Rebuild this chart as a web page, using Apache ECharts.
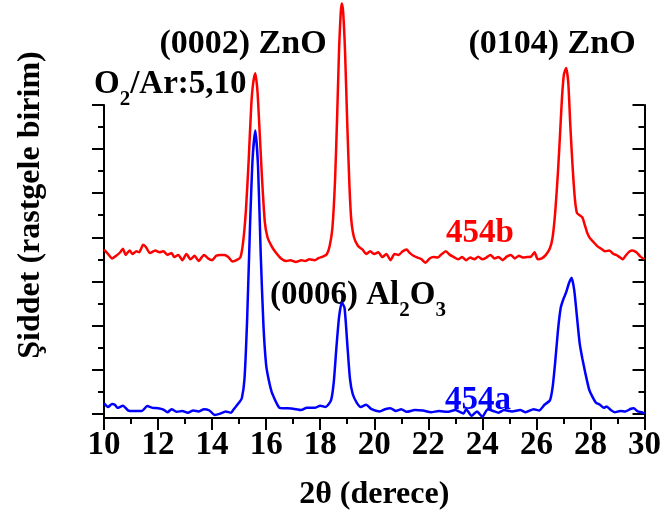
<!DOCTYPE html>
<html>
<head>
<meta charset="utf-8">
<script src="https://cdn.jsdelivr.net/npm/echarts@6/dist/echarts.min.js"></script>
<style>
  html,body{margin:0;padding:0;background:#fff;}
  #chart{width:664px;height:520px;}
</style>
</head>
<body>
<div id="chart"></div>
<script>
// 2theta positions + intensity (arb. units, offset)
var red454b = [
  [10.0,3.72],[10.15,3.62],[10.3,3.52],[10.45,3.58],[10.6,3.66],[10.7,3.74],[10.8,3.6],[10.95,3.7],
  [11.05,3.62],[11.2,3.68],[11.3,3.66],[11.45,3.83],[11.55,3.78],[11.7,3.64],[11.9,3.7],[12.05,3.66],
  [12.2,3.68],[12.35,3.6],[12.5,3.64],[12.6,3.55],[12.75,3.6],[12.9,3.48],[13.05,3.62],[13.2,3.5],
  [13.35,3.58],[13.5,3.46],[13.7,3.6],[13.85,3.52],[14.0,3.48],[14.15,3.58],[14.3,3.6],[14.45,3.6],
  [14.6,3.55],[14.75,3.45],[14.9,3.48],[15.05,3.55],[15.15,3.9],[15.25,4.6],[15.35,5.7],[15.45,7.0],
  [15.52,7.5],[15.6,7.72],[15.68,7.3],[15.75,6.5],[15.85,5.3],[15.95,4.35],[16.05,4.0],[16.2,3.8],
  [16.35,3.66],[16.55,3.52],[16.75,3.46],[16.9,3.48],[17.1,3.44],[17.3,3.48],[17.45,3.46],[17.6,3.5],
  [17.8,3.48],[17.95,3.53],[18.1,3.56],[18.25,3.62],[18.35,3.8],[18.45,4.2],[18.55,5.3],[18.63,6.8],
  [18.7,8.3],[18.76,9.1],[18.8,9.3],[18.85,9.1],[18.92,8.2],[19.0,6.6],[19.08,5.2],[19.15,4.4],
  [19.25,4.0],[19.4,3.8],[19.57,3.72],[19.7,3.62],[19.85,3.68],[20.0,3.62],[20.15,3.66],[20.3,3.55],
  [20.45,3.62],[20.6,3.48],[20.75,3.62],[20.9,3.6],[21.05,3.68],[21.2,3.72],[21.3,3.65],[21.45,3.58],
  [21.6,3.54],[21.75,3.5],[21.9,3.42],[22.05,3.52],[22.2,3.55],[22.35,3.54],[22.5,3.62],[22.65,3.68],
  [22.8,3.6],[22.95,3.55],[23.1,3.5],[23.25,3.55],[23.4,3.48],[23.55,3.54],[23.7,3.5],[23.85,3.56],
  [24.0,3.5],[24.15,3.54],[24.3,3.6],[24.45,3.52],[24.6,3.55],[24.75,3.48],[24.9,3.56],[25.05,3.6],
  [25.2,3.52],[25.35,3.58],[25.5,3.54],[25.65,3.55],[25.8,3.56],[25.93,3.66],[26.05,3.5],[26.2,3.52],
  [26.35,3.6],[26.5,3.75],[26.6,4.0],[26.7,4.6],[26.8,5.5],[26.88,6.4],[26.95,7.2],[27.02,7.7],
  [27.1,7.84],[27.18,7.5],[27.25,6.6],[27.33,5.7],[27.42,4.9],[27.5,4.55],[27.6,4.5],[27.7,4.45],
  [27.78,4.3],[27.88,4.1],[27.98,3.98],[28.1,3.9],[28.25,3.8],[28.4,3.74],[28.55,3.68],[28.7,3.7],
  [28.85,3.62],[28.95,3.6],[29.1,3.54],[29.2,3.5],[29.3,3.58],[29.45,3.68],[29.55,3.7],[29.7,3.66],
  [29.85,3.56],[30.0,3.5]
];
var blue454a = [
  [10.0,0.23],[10.15,0.15],[10.3,0.22],[10.4,0.2],[10.5,0.13],[10.7,0.18],[10.9,0.07],[11.1,0.06],
  [11.4,0.06],[11.6,0.17],[11.8,0.13],[12.0,0.12],[12.2,0.09],[12.35,0.03],[12.5,0.1],[12.7,0.04],
  [12.9,0.06],[13.1,0.02],[13.3,0.07],[13.5,0.05],[13.7,0.1],[13.9,0.07],[14.1,-0.03],[14.3,0.0],
  [14.5,0.05],[14.7,0.02],[14.8,0.1],[15.0,0.25],[15.1,0.35],[15.2,0.8],[15.3,2.2],[15.4,4.2],
  [15.5,5.8],[15.6,6.42],[15.7,5.6],[15.8,3.6],[15.9,2.0],[16.0,1.1],[16.1,0.75],[16.2,0.5],
  [16.3,0.35],[16.4,0.22],[16.5,0.13],[16.8,0.12],[17.0,0.11],[17.3,0.08],[17.5,0.13],[17.8,0.13],
  [18.0,0.18],[18.2,0.15],[18.4,0.3],[18.5,0.7],[18.6,1.5],[18.7,2.2],[18.8,2.52],[18.9,2.4],
  [19.0,1.6],[19.1,0.8],[19.2,0.45],[19.35,0.25],[19.5,0.15],[19.7,0.2],[19.9,0.1],[20.2,0.05],
  [20.4,0.1],[20.6,0.12],[20.8,0.06],[21.0,0.1],[21.2,0.04],[21.5,0.08],[21.8,0.07],[22.1,0.03],
  [22.4,0.06],[22.7,0.04],[23.0,0.08],[23.3,0.0],[23.4,0.1],[23.6,-0.05],[23.8,0.05],[24.0,-0.07],
  [24.2,0.1],[24.4,0.06],[24.6,0.02],[24.8,0.08],[25.1,0.05],[25.4,0.08],[25.6,0.03],[25.9,0.1],
  [26.1,0.07],[26.3,0.2],[26.5,0.3],[26.6,0.6],[26.7,1.2],[26.8,1.9],[26.9,2.4],[27.0,2.6],
  [27.1,2.75],[27.2,2.95],[27.3,3.08],[27.4,2.8],[27.5,2.2],[27.6,1.6],[27.7,1.25],[27.8,0.95],
  [27.95,0.55],[28.1,0.35],[28.2,0.25],[28.35,0.2],[28.5,0.13],[28.6,0.16],[28.75,0.08],[28.9,0.03],
  [29.1,0.06],[29.3,0.05],[29.5,0.11],[29.6,0.12],[29.75,0.05],[29.9,0.03],[30.0,0.0]
];
var yMajor = [0,1,2,3,4,5,6,7];
var yMinor = [0.5,1.5,2.5,3.5,4.5,5.5,6.5];

var FONT = '"Liberation Serif","Times New Roman",serif';

function yAxis(pos, ticks, len, showLine){
  return {
    type:'value', position:pos, min:-0.1, max:7,
    axisLine:{show:showLine, onZero:false, lineStyle:{color:'#000', width:2}},
    axisTick:{show:true, customValues:ticks, length:len, inside:pos=='right', lineStyle:{color:'#000', width:2}},
    axisLabel:{show:false, customValues:ticks},
    splitLine:{show:false}
  };
}

var myChart = echarts.init(document.getElementById('chart'));

var sub = {fontFamily:FONT, fontWeight:'bold', fontSize:21, lineHeight:21, padding:[32,0,0,0], color:'#000'};
var big = {fontFamily:FONT, fontWeight:'bold', fontSize:33, lineHeight:36, color:'#000'};

var option = {
  animation:false,
  grid:{left:104, right:19, top:105, bottom:102},
  xAxis:{
    type:'value', min:10, max:30, interval:2,
    name:'2θ (derece)', nameLocation:'middle', nameGap:61,
    nameTextStyle:{fontFamily:FONT, fontWeight:'bold', fontSize:32, color:'#000'},
    axisLine:{onZero:false, lineStyle:{color:'#000', width:2}},
    axisTick:{length:12, lineStyle:{color:'#000', width:2}},
    minorTick:{show:true, splitNumber:2, length:6, lineStyle:{color:'#000', width:2}},
    axisLabel:{fontFamily:FONT, fontWeight:'bold', fontSize:33, color:'#000', margin:11},
    splitLine:{show:false}
  },
  yAxis:[
    yAxis('left', yMajor, 12, true),
    yAxis('left', yMinor, 6, false),
    yAxis('right', yMajor, 12, true),
    yAxis('right', yMinor, 6, false)
  ],
  series:[
    {type:'line', data:red454b, showSymbol:false, smooth:0.2, clip:false,
     lineStyle:{color:'#ff0000', width:2.5}},
    {type:'line', data:blue454a, showSymbol:false, smooth:0.2, clip:false,
     lineStyle:{color:'#0000ff', width:2.5}}
  ],
  graphic:[
    {type:'text', x:31, y:205, rotation:Math.PI/2,
     style:{text:'Şiddet (rastgele birim)', font:'bold 32px '+FONT, fill:'#000', align:'center', verticalAlign:'middle'}},
    {type:'text', x:243, y:44, style:{text:'(0002) ZnO', font:'bold 34px '+FONT, fill:'#000', align:'center', verticalAlign:'middle'}},
    {type:'text', x:552, y:44, style:{text:'(0104) ZnO', font:'bold 34px '+FONT, fill:'#000', align:'center', verticalAlign:'middle'}},
    {type:'text', x:94, y:84, style:{
      text:'{a|O}{s|2}{a|/Ar:5,10}', align:'left', verticalAlign:'middle', rich:{a:big, s:sub}}},
    {type:'text', x:270, y:295, style:{
      text:'{a|(0006) Al}{s|2}{a|O}{s|3}', align:'left', verticalAlign:'middle', rich:{a:big, s:sub}}},
    {type:'text', x:480, y:233, style:{text:'454b', font:'bold 33px '+FONT, fill:'#ff0000', align:'center', verticalAlign:'middle'}},
    {type:'text', x:478, y:400, style:{text:'454a', font:'bold 33px '+FONT, fill:'#0000ff', align:'center', verticalAlign:'middle'}}
  ]
};
myChart.setOption(option);
</script>
</body>
</html>
